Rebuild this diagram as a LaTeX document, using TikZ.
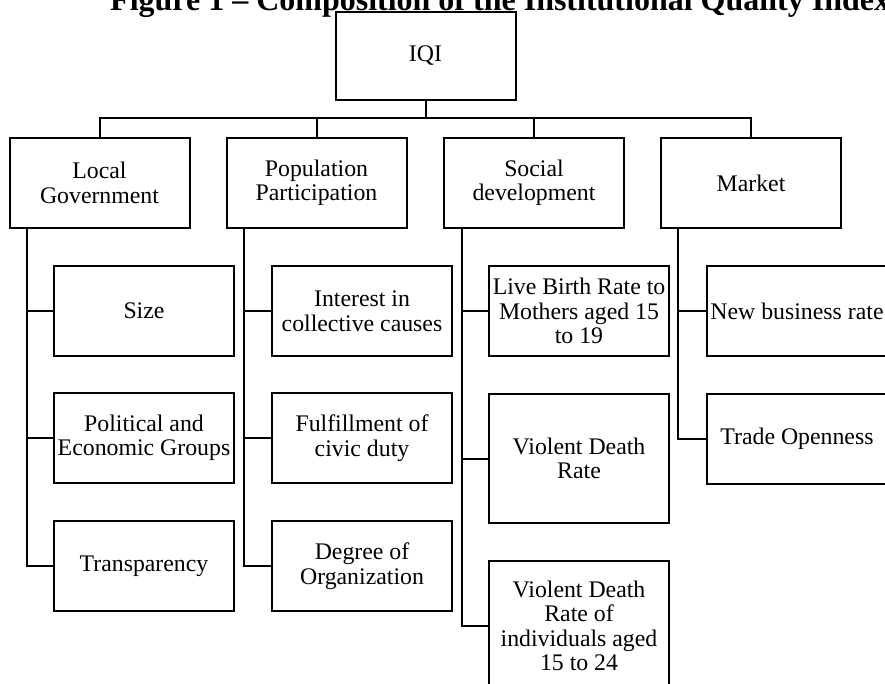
\documentclass[tikz,border=0pt]{standalone}
\usepackage{fontspec}
\setmainfont{Liberation Serif}
\begin{document}
\begin{tikzpicture}[x=1pt,y=-1pt,
  box/.style={draw,line width=2pt,minimum width=180pt,minimum height=90pt,inner sep=0pt,align=center,
    font=\fontsize{23.8pt}{24.5pt}\selectfont},
  tallbox/.style={box,minimum height=129pt},
  conn/.style={line width=2pt}]
\useasboundingbox (0,0) rectangle (885,683);
\node[anchor=base west,inner sep=0pt,font=\fontsize{32pt}{36pt}\selectfont\bfseries] (title) at (110,10) {Figure 1 – Composition of the Institutional Quality Index};
\node[box,minimum height=88pt] (iqi) at (425.5,56) {IQI};
% level 1
\node[box] (lg) at (99.5,183) {Local\\Government};
\node[box] (pp) at (316.5,183) {Population\\Participation};
\node[box] (sd) at (534,183) {Social\\development};
\node[box] (mk) at (751,183) {Market};
% level 2
\node[box] (size) at (144,311) {Size};
\node[box] (pol) at (144,438) {Political and\\Economic Groups};
\node[box] (tra) at (144,566) {Transparency};
\node[box] (int) at (362,311) {Interest in\\collective causes};
\node[box] (ful) at (362,438) {Fulfillment of\\civic duty};
\node[box] (deg) at (362,566) {Degree of\\Organization};
\node[box] (live) at (579,311) {Live Birth Rate to\\Mothers aged 15\\to 19};
\node[tallbox] (vdr) at (579,458.5) {Violent Death\\Rate};
\node[tallbox,minimum height=130pt] (vdr2) at (579,626) {Violent Death\\Rate of\\individuals aged\\15 to 24};
\node[box] (nbr) at (797,311) {New business rate};
\node[box] (top) at (797,438.5) {Trade Openness};
% connectors
\coordinate (bus) at (425.5,118);
\draw[conn] (iqi.south) -- (bus);
\draw[conn] (lg.north) |- (bus) -| (mk.north);
\draw[conn] (pp.north) |- (bus);
\draw[conn] (sd.north) |- (bus);
\coordinate (tlg) at ([xshift=18pt]lg.south west);
\coordinate (tpp) at ([xshift=18pt]pp.south west);
\coordinate (tsd) at ([xshift=19pt]sd.south west);
\coordinate (tmk) at ([xshift=18pt]mk.south west);
\draw[conn] (tlg) |- (size.west);
\draw[conn] (tlg) |- (pol.west);
\draw[conn] (tlg) |- (tra.west);
\draw[conn] (tpp) |- (int.west);
\draw[conn] (tpp) |- (ful.west);
\draw[conn] (tpp) |- (deg.west);
\draw[conn] (tsd) |- (live.west);
\draw[conn] (tsd) |- (vdr.west);
\draw[conn] (tsd) |- (vdr2.west);
\draw[conn] (tmk) |- (nbr.west);
\draw[conn] (tmk) |- (top.west);
\end{tikzpicture}
\end{document}
